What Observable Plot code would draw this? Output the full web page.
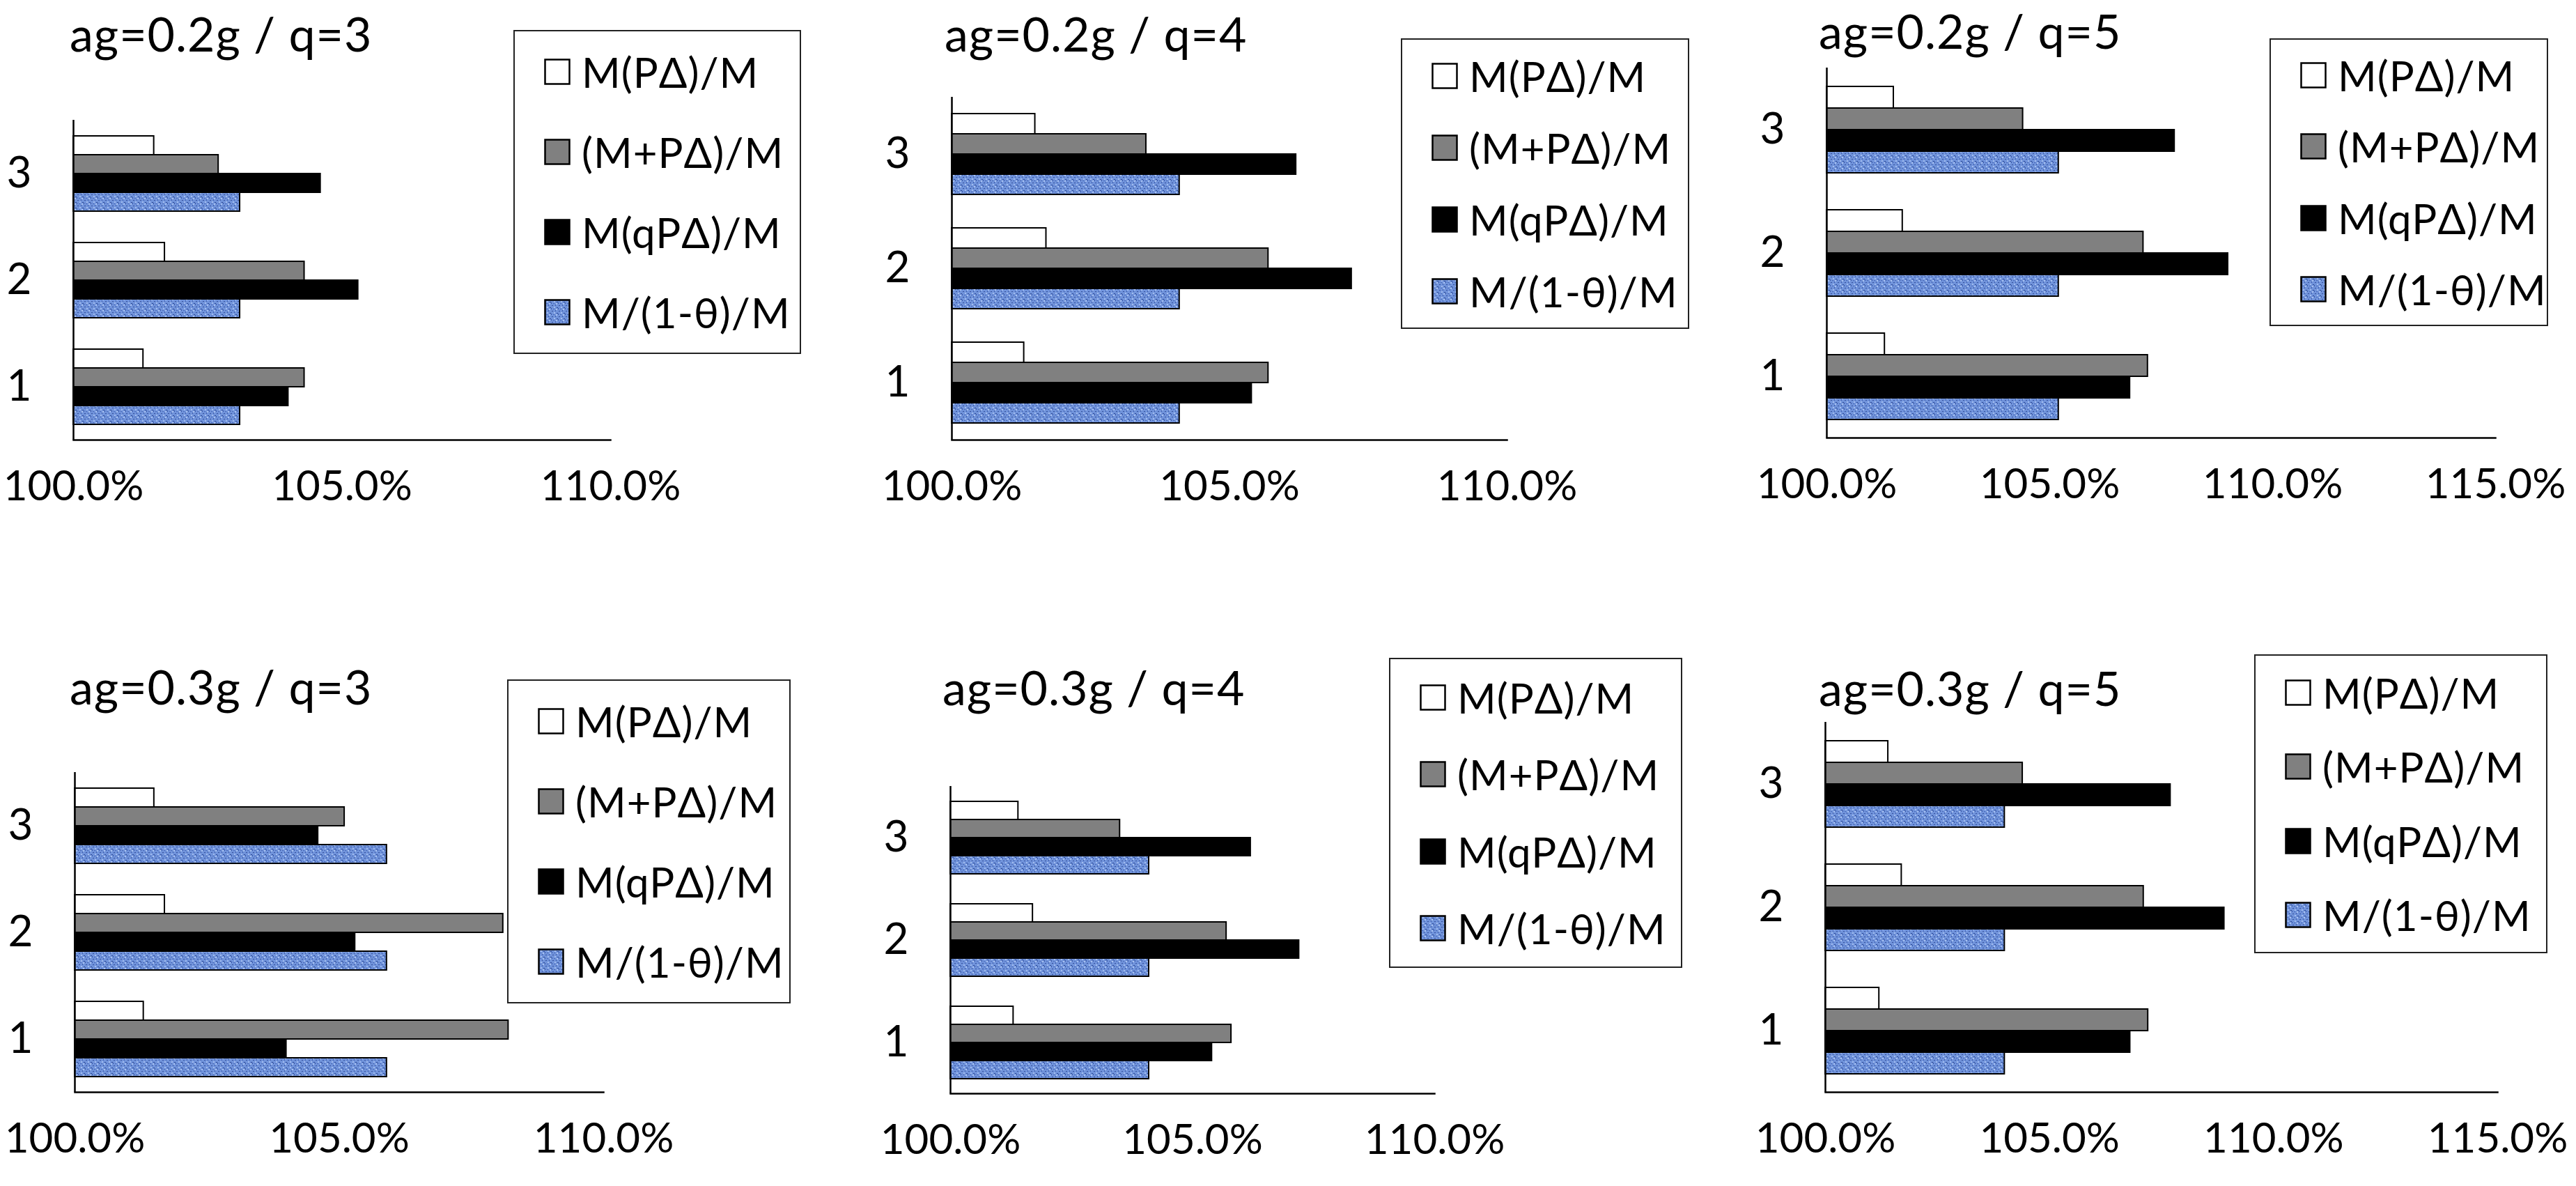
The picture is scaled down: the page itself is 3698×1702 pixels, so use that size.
<!DOCTYPE html>
<html>
<head>
<meta charset="utf-8">
<script src="https://cdn.jsdelivr.net/npm/d3@7"></script>
<script src="https://cdn.jsdelivr.net/npm/@observablehq/plot@0.6"></script>
<style>
  html, body { margin: 0; padding: 0; background: #fff; }
  #root { position: relative; width: 3698px; height: 1702px; background: #fff; overflow: hidden; font-family: Lato, "Open Sans", sans-serif; color: #000; }
  .panel-svg { position: absolute; }
  .title { position: absolute; font-size: 68px; letter-spacing: 1px; white-space: nowrap; line-height: 1; }
  .legend { position: absolute; box-sizing: border-box; border: 2.5px solid #222; background: #fff;
            display: flex; flex-direction: column; justify-content: space-around; padding-left: 42px; }
  .legend-row { display: flex; align-items: center; font-size: 60px; letter-spacing: 1px; white-space: nowrap; line-height: 1; }
  .legend-row svg { margin-right: 16px; flex: none; }
</style>
</head>
<body>
<svg width="0" height="0" style="position:absolute">
  <defs>
    <pattern id="bluetex" patternUnits="userSpaceOnUse" width="10" height="8">
      <rect width="10" height="8" fill="#7093db"/>
      <rect x="1" y="1" width="2" height="1" fill="#34509c"/>
      <rect x="6" y="0" width="1" height="2" fill="#3f5da9"/>
      <rect x="4" y="3" width="2" height="2" fill="#a3bdee"/>
      <rect x="0" y="5" width="1" height="2" fill="#3a58a6"/>
      <rect x="8" y="4" width="2" height="1" fill="#2e4a94"/>
      <rect x="3" y="6" width="2" height="1" fill="#4d6cb8"/>
      <rect x="7" y="6" width="2" height="2" fill="#a9c2f0"/>
    </pattern>
  </defs>
</svg>
<div id="root"></div>
<script>
// ---------- DATA ----------
const stories = [1, 2, 3];
const seriesNames = ["M(PΔ)/M", "(M+PΔ)/M", "M(qPΔ)/M", "M/(1-θ)/M"];
const panelTitles = ["ag=0.2g / q=3", "ag=0.2g / q=4", "ag=0.2g / q=5",
                     "ag=0.3g / q=3", "ag=0.3g / q=4", "ag=0.3g / q=5"];
const axisStart = 100;
const axisEnds = [110, 110, 115, 110, 110, 115];
const ticks10 = [100, 105, 110];
const ticks15 = [100, 105, 110, 115];

// values in %, one row per series (order of seriesNames), columns = stories 1, 2, 3
const ag02_q3 = [[101.3, 101.7, 101.5], [104.3, 104.3, 102.7], [104.0, 105.3, 104.6], [103.1, 103.1, 103.1]];
const ag02_q4 = [[101.3, 101.7, 101.5], [105.7, 105.7, 103.5], [105.4, 107.2, 106.2], [104.1, 104.1, 104.1]];
const ag02_q5 = [[101.3, 101.7, 101.5], [107.2, 107.1, 104.4], [106.8, 109.0, 107.8], [105.2, 105.2, 105.2]];
const ag03_q3 = [[101.3, 101.7, 101.5], [108.2, 108.1, 105.1], [104.0, 105.3, 104.6], [105.9, 105.9, 105.9]];
const ag03_q4 = [[101.3, 101.7, 101.4], [105.8, 105.7, 103.5], [105.4, 107.2, 106.2], [104.1, 104.1, 104.1]];
const ag03_q5 = [[101.2, 101.7, 101.4], [107.2, 107.1, 104.4], [106.8, 108.9, 107.7], [104.0, 104.0, 104.0]];
const panelValues = [ag02_q3, ag02_q4, ag02_q5, ag03_q3, ag03_q4, ag03_q5];

// ---------- STYLE / LAYOUT ----------
const seriesFills = ["#ffffff", "#808080", "#000000", "url(#bluetex)"];
const layout = [
  {x0: 105,  x1: 876,  y0: 172,  y1: 631,  tx: 100,  ty: 72,   lx: 737,  ly: 43,  lw: 413, lh: 465},
  {x0: 1366, x1: 2163, y0: 138,  y1: 631,  tx: 1356, ty: 72,   lx: 2011, ly: 55,  lw: 414, lh: 417},
  {x0: 2622, x1: 3582, y0: 97,   y1: 628,  tx: 2611, ty: 68,   lx: 3258, ly: 55,  lw: 400, lh: 413},
  {x0: 107,  x1: 866,  y0: 1107, y1: 1567, tx: 100,  ty: 1009, lx: 728,  ly: 975, lw: 407, lh: 465},
  {x0: 1364, x1: 2059, y0: 1127, y1: 1569, tx: 1353, ty: 1010, lx: 1994, ly: 944, lw: 421, lh: 445},
  {x0: 2620, x1: 3585, y0: 1035, y1: 1567, tx: 2611, ty: 1011, lx: 3236, ly: 939, lw: 421, lh: 429}
];

const root = document.getElementById("root");

function swatch(fill) {
  const ns = "http://www.w3.org/2000/svg";
  const s = document.createElementNS(ns, "svg");
  s.setAttribute("width", 38); s.setAttribute("height", 38);
  const r = document.createElementNS(ns, "rect");
  r.setAttribute("x", 1.5); r.setAttribute("y", 1.5);
  r.setAttribute("width", 35); r.setAttribute("height", 35);
  r.setAttribute("fill", fill); r.setAttribute("stroke", "#000"); r.setAttribute("stroke-width", 2.5);
  s.appendChild(r);
  return s;
}

panelValues.forEach((vals, i) => {
  const L = layout[i];
  const rows = [];
  seriesNames.forEach((s, si) => stories.forEach((st, k) => rows.push({story: st, series: s, value: vals[si][k]})));
  const ML = 105, MR = 120, MT = 6, MB = 140;
  const w = L.x1 - L.x0, h = L.y1 - L.y0;
  const chart = Plot.plot({
    width: w + ML + MR,
    height: h + MT + MB,
    marginLeft: ML, marginRight: MR, marginTop: MT, marginBottom: MB,
    style: {fontFamily: "Lato, 'Open Sans', sans-serif", fontSize: "60px", color: "#000", background: "transparent", overflow: "visible"},
    x: {domain: [axisStart, axisEnds[i]], axis: null},
    y: {domain: seriesNames, paddingInner: 0, paddingOuter: 0.807, axis: null},
    fy: {domain: [3, 2, 1], padding: 0, axis: null},
    color: {domain: seriesNames, range: seriesFills},
    marks: [
      Plot.barX(rows, {x1: () => axisStart, x2: "value", y: "series", fy: "story", fill: "series", stroke: "#000", strokeWidth: 2}),
      Plot.ruleX([axisStart], {stroke: "#000", strokeWidth: 2.5}),
      Plot.frame({anchor: "bottom", facetAnchor: "bottom", stroke: "#000", strokeWidth: 2.5}),
      Plot.axisX({ticks: axisEnds[i] === 115 ? ticks15 : ticks10, tickSize: 0, tickPadding: 44,
                  tickFormat: d => d.toFixed(1) + "%", label: null, fontSize: 60}),
      Plot.axisFy({tickSize: 0, tickPadding: 60, label: null, anchor: "left", fontSize: 62})
    ]
  });
  chart.classList.add("panel-svg");
  chart.style.left = (L.x0 - ML) + "px";
  chart.style.top = (L.y0 - MT) + "px";
  root.appendChild(chart);

  const t = document.createElement("div");
  t.className = "title";
  t.textContent = panelTitles[i];
  t.style.left = L.tx + "px";
  t.style.top = (L.ty - 58) + "px";
  root.appendChild(t);

  const lg = document.createElement("div");
  lg.className = "legend";
  lg.style.left = L.lx + "px"; lg.style.top = L.ly + "px";
  lg.style.width = L.lw + "px"; lg.style.height = L.lh + "px";
  seriesNames.forEach((s, si) => {
    const row = document.createElement("div");
    row.className = "legend-row";
    row.appendChild(swatch(seriesFills[si]));
    const sp = document.createElement("span");
    sp.textContent = s;
    row.appendChild(sp);
    lg.appendChild(row);
  });
  root.appendChild(lg);
});
</script>
</body>
</html>
